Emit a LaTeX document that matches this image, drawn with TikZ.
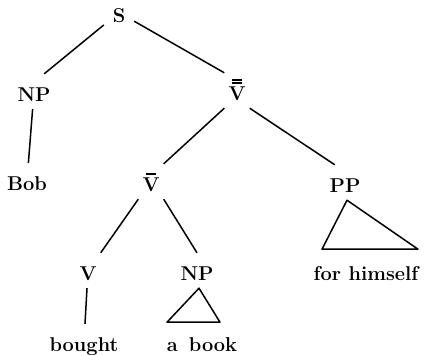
\documentclass[tikz,border=0pt]{standalone}

% V with one or two bars over it
\newcommand{\barV}{\vbox{\offinterlineskip\halign{\hfil##\hfil\cr
    \rule{10pt}{1.6pt}\cr\noalign{\kern2.5pt}V\cr}}}
\newcommand{\barbarV}{\vbox{\offinterlineskip\halign{\hfil##\hfil\cr
    \rule{10pt}{1.6pt}\cr\noalign{\kern1.4pt}\rule{10pt}{1.6pt}\cr
    \noalign{\kern2.5pt}V\cr}}}

\begin{document}
\begin{tikzpicture}[
    x=1pt, y=-1pt,
    cat/.style={font=\fontsize{20}{24}\selectfont\bfseries, anchor=base,
        text height=21pt, text depth=2pt, inner ysep=6pt, inner xsep=4pt},
    branch/.style={line width=1.5pt},
    roof/.style={line width=1.5pt, line join=round}
]
\useasboundingbox (0,0) rectangle (426,356);

% category nodes
\node[cat, minimum width=30pt] (s) at (119,22) {S};
\node[cat] (np1) at (34,101) {NP};
\node[cat] (vbb) at (237,100) {\barbarV};
\node[cat] (vb) at (151,191) {\barV};
\node[cat] (pp) at (345,192) {PP};
\node[cat] (v) at (88,280) {V};
\node[cat] (np2) at (197,280) {NP};

% words
\node[cat] (bob) at (27,190) {Bob};
\node[cat] (bought) at (84,351) {bought};
\node[cat] (abook) at (202,351) {a\hspace{0.55em}book};
\node[cat] (forhimself) at (366,280) {for himself};

% branches
\draw[branch] (s) -- (np1.60);
\draw[branch] (s) -- (vbb.north west);
\draw[branch] (np1) -- (bob);
\draw[branch] (vbb.south west) -- (vb.north east);
\draw[branch] (vbb.south east) -- (pp.120);
\draw[branch] (vb.south west) -- (v.north east);
\draw[branch] (vb.south east) -- (np2.north);
\draw[branch] (v) -- (bought);

% triangles
\draw[roof] ([xshift=2pt]pp.south) -- ++(-25,49) -- ++(96,0) -- cycle;
\draw[roof] ([xshift=2pt]np2.south) -- ++(-32,34) -- ++(53,0) -- cycle;

\end{tikzpicture}
\end{document}
